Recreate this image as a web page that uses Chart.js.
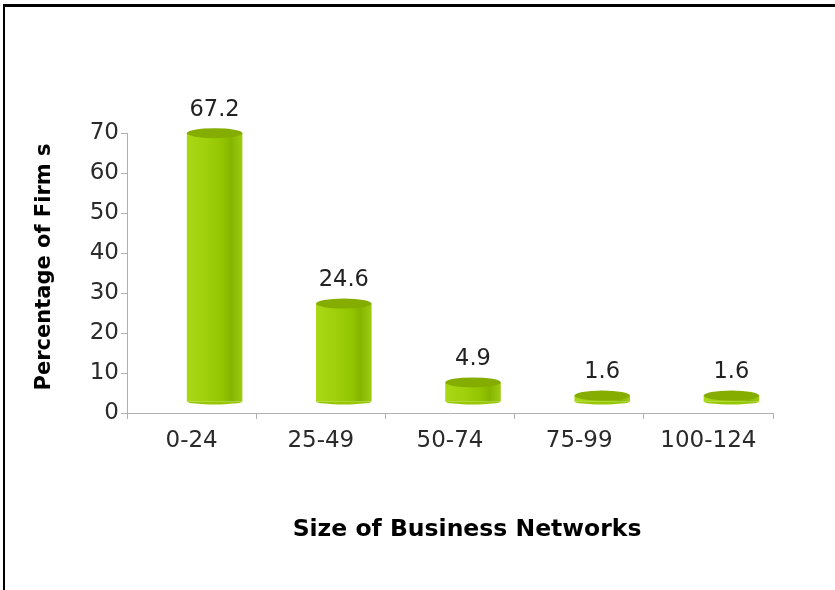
<!DOCTYPE html>
<html>
<head>
<meta charset="utf-8">
<script src="https://cdn.jsdelivr.net/npm/chart.js@4.4.0/dist/chart.umd.min.js"></script>
<style>
  html, body { margin: 0; padding: 0; background: #fff; }
  #wrap { position: relative; width: 835px; height: 590px; }
  #frame { position: absolute; left: 3px; top: 4px; right: 0; bottom: 0; border-top: 3px solid #000; border-left: 2px solid #000; pointer-events: none; z-index: 2; }
  canvas { position: absolute; left: 0; top: 0; }
</style>
</head>
<body>
<div id="wrap">
  <canvas id="c" width="835" height="590"></canvas>
  <div id="frame"></div>
</div>
<script>
const categories = ['0-24', '25-49', '50-74', '75-99', '100-124'];
const percentages = [67.2, 24.6, 4.9, 1.6, 1.6];
const yTicks = [0, 10, 20, 30, 40, 50, 60, 70];
const xTitle = 'Size of Business Networks';
const yTitle = 'Percentage of Firm s';

const FONT = "'DejaVu Sans', sans-serif";
const DX = 23, DY = -11;

function barGradient(context) {
  const chart = context.chart;
  if (!chart.chartArea || context.type !== 'data') return '#9acd00';
  const xs = chart.scales.x;
  const cx = xs.getPixelForValue(context.dataIndex);
  const w = 55;
  const g = chart.ctx.createLinearGradient(cx - w / 2, 0, cx + w / 2, 0);
  g.addColorStop(0, '#a9d814');
  g.addColorStop(0.35, '#9fd00a');
  g.addColorStop(0.65, '#92c400');
  g.addColorStop(0.8, '#86b500');
  g.addColorStop(1, '#9ccb10');
  return g;
}

const shiftPlugin = {
  id: 'shift3d',
  beforeDatasetsDraw(chart) {
    const ctx = chart.ctx;
    ctx.save();
    ctx.translate(DX, DY);
    const meta = chart.getDatasetMeta(0);
    meta.data.forEach((bar) => {
      const w = bar.width;
      ctx.beginPath();
      ctx.ellipse(bar.x, bar.base, w / 2, 3, 0, 0, Math.PI);
      ctx.fillStyle = '#96c700';
      ctx.fill();
    });
  },
  afterDatasetsDraw(chart) {
    const ctx = chart.ctx;
    const meta = chart.getDatasetMeta(0);
    meta.data.forEach((bar, i) => {
      const w = bar.width;
      ctx.beginPath();
      ctx.ellipse(bar.x, bar.y, w / 2, 5, 0, 0, Math.PI * 2);
      ctx.fillStyle = '#84ad00';
      ctx.fill();
      ctx.fillStyle = '#222';
      ctx.font = '22.5px ' + FONT;
      ctx.textAlign = 'center';
      ctx.textBaseline = 'middle';
      ctx.fillText(String(percentages[i]), bar.x, bar.y - 23);
    });
    ctx.restore();
  }
};

const titlePlugin = {
  id: 'axisTitles',
  afterDraw(chart) {
    const ctx = chart.ctx;
    const area = chart.chartArea;
    ctx.save();
    ctx.fillStyle = '#000';
    ctx.textAlign = 'center';
    ctx.textBaseline = 'middle';
    ctx.font = 'bold 23.5px ' + FONT;
    ctx.fillText(xTitle, (area.left + area.right) / 2 + 17, 530);
    ctx.font = 'bold 21px ' + FONT;
    ctx.translate(45, (area.top + area.bottom) / 2 - 6);
    ctx.rotate(-Math.PI / 2);
    ctx.fillText(yTitle, 0, 0);
    ctx.restore();
  }
};

new Chart(document.getElementById('c'), {
  type: 'bar',
  data: {
    labels: categories,
    datasets: [{
      data: percentages,
      backgroundColor: barGradient,
      borderWidth: 0,
      categoryPercentage: 1,
      barPercentage: 0.43,
      clip: false
    }]
  },
  options: {
    responsive: false,
    animation: false,
    events: [],
    layout: { padding: { left: 5, right: 62, top: 133, bottom: 20 } },
    plugins: { legend: { display: false }, tooltip: { enabled: false } },
    scales: {
      x: {
        grid: { offset: true, drawOnChartArea: false, tickLength: 6, color: '#b0b0b0' },
        border: { color: '#b0b0b0' },
        ticks: { color: '#2a2a2a', font: { family: FONT, size: 23 }, padding: 8 },
        afterFit(scale) { scale.height = 157; }
      },
      y: {
        min: 0,
        max: 70,
        afterBuildTicks(scale) { scale.ticks = yTicks.map(v => ({ value: v })); },
        grid: { drawOnChartArea: false, tickLength: 6, color: '#b0b0b0' },
        border: { color: '#b0b0b0' },
        ticks: { color: '#2a2a2a', font: { family: FONT, size: 23 }, padding: 2 },
        afterFit(scale) { scale.width = 122; }
      }
    }
  },
  plugins: [shiftPlugin, titlePlugin]
});
</script>
</body>
</html>
